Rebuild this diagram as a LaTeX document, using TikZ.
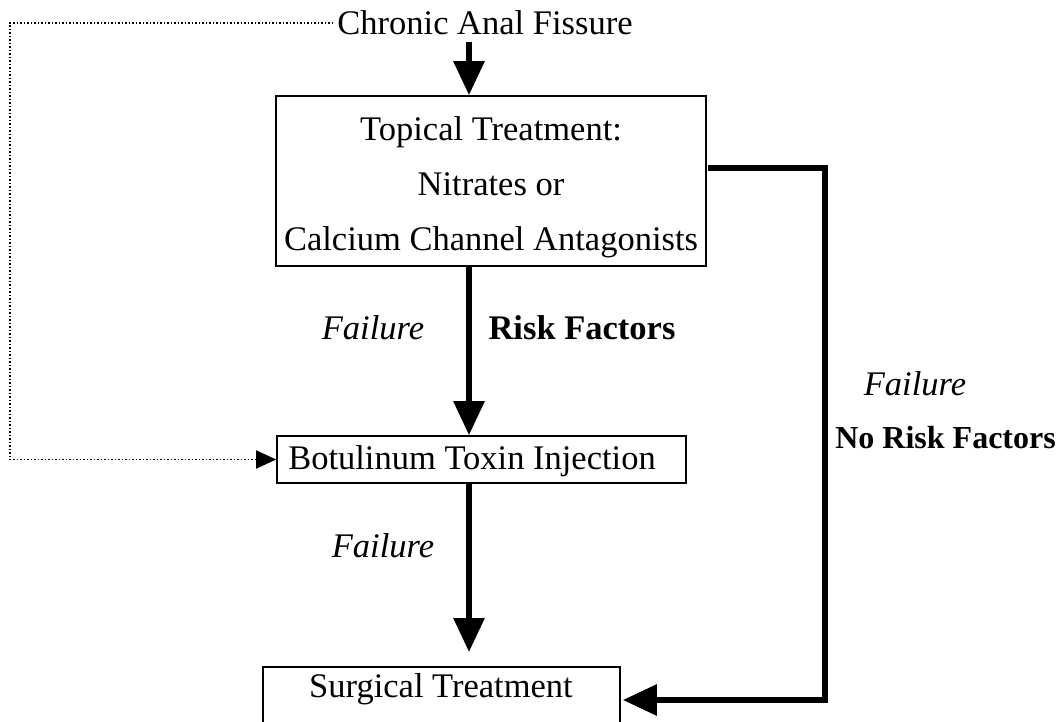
\documentclass[tikz,border=0pt]{standalone}
\usepackage{fontspec}
\setmainfont{Liberation Serif}
\usetikzlibrary{arrows.meta}
\begin{document}
\begin{tikzpicture}[x=1pt,y=-1pt,
  txt/.style={font=\fontsize{34.5}{41}\selectfont, inner sep=0pt},
  boxnode/.style={draw, line width=1.6pt, inner sep=0pt},
  bigarrow/.style={line width=6pt, -{Triangle[width=30pt,length=34pt]}},
  dotarrow/.style={line width=1.5pt, dotted, -{Triangle[width=18pt,length=20pt]}},
]
\useasboundingbox (0,0) rectangle (1059,722);
\fill[white] (0,0) rectangle (1059,722);
% boxes
\node[boxnode, minimum width=430pt, minimum height=170pt] (topical) at (491,181) {};
\node[txt, align=center] (topicaltext) at (491,187) {Topical Treatment:\\[14pt]Nitrates or\\[14pt]Calcium Channel Antagonists};
\node[boxnode, minimum width=409pt, minimum height=47pt] (botox) at (481.5,459.5) {};
\node[txt] (botoxtext) at (472,461) {Botulinum Toxin Injection};
\node[boxnode, minimum width=357pt, minimum height=70pt] (surg) at (441.5,702) {};
\node[txt] (surgtext) at (441,689) {Surgical Treatment};
\node[txt] (chronic) at (485,23) {Chronic Anal Fissure};
% labels
\node[txt, font=\fontsize{34.5}{41}\selectfont\itshape] (f1) at (373,328) {Failure};
\node[txt, font=\fontsize{34.5}{41}\selectfont\bfseries] (rf) at (582,328) {Risk Factors};
\node[txt, font=\fontsize{34.5}{41}\selectfont\itshape] (f2) at (383,546) {Failure};
\node[txt, font=\fontsize{34.5}{41}\selectfont\itshape] (f3) at (915,384) {Failure};
\node[txt, font=\fontsize{32}{38}\selectfont\bfseries, anchor=east] (nrf) at (1056,438) {No Risk Factors};
% coordinates
\coordinate (ax) at (469,0);
\coordinate (c1) at (10,300);
\coordinate (r0) at (708,168);
\coordinate (r1) at (825,400);
% connectors
\draw[bigarrow] (ax |- 0,42) -- (ax |- topical.north);
\draw[bigarrow] (ax |- topical.south) -- (ax |- botox.north);
\draw[bigarrow] (ax |- botox.south) -- (ax |- 0,652);
\draw[dotarrow] ([xshift=-4pt]chronic.west) -| (c1) |- (botox.west);
\draw[bigarrow] (r0) -| (r1) |- ([xshift=2pt]surg.east |- 0,700);
\end{tikzpicture}
\end{document}
